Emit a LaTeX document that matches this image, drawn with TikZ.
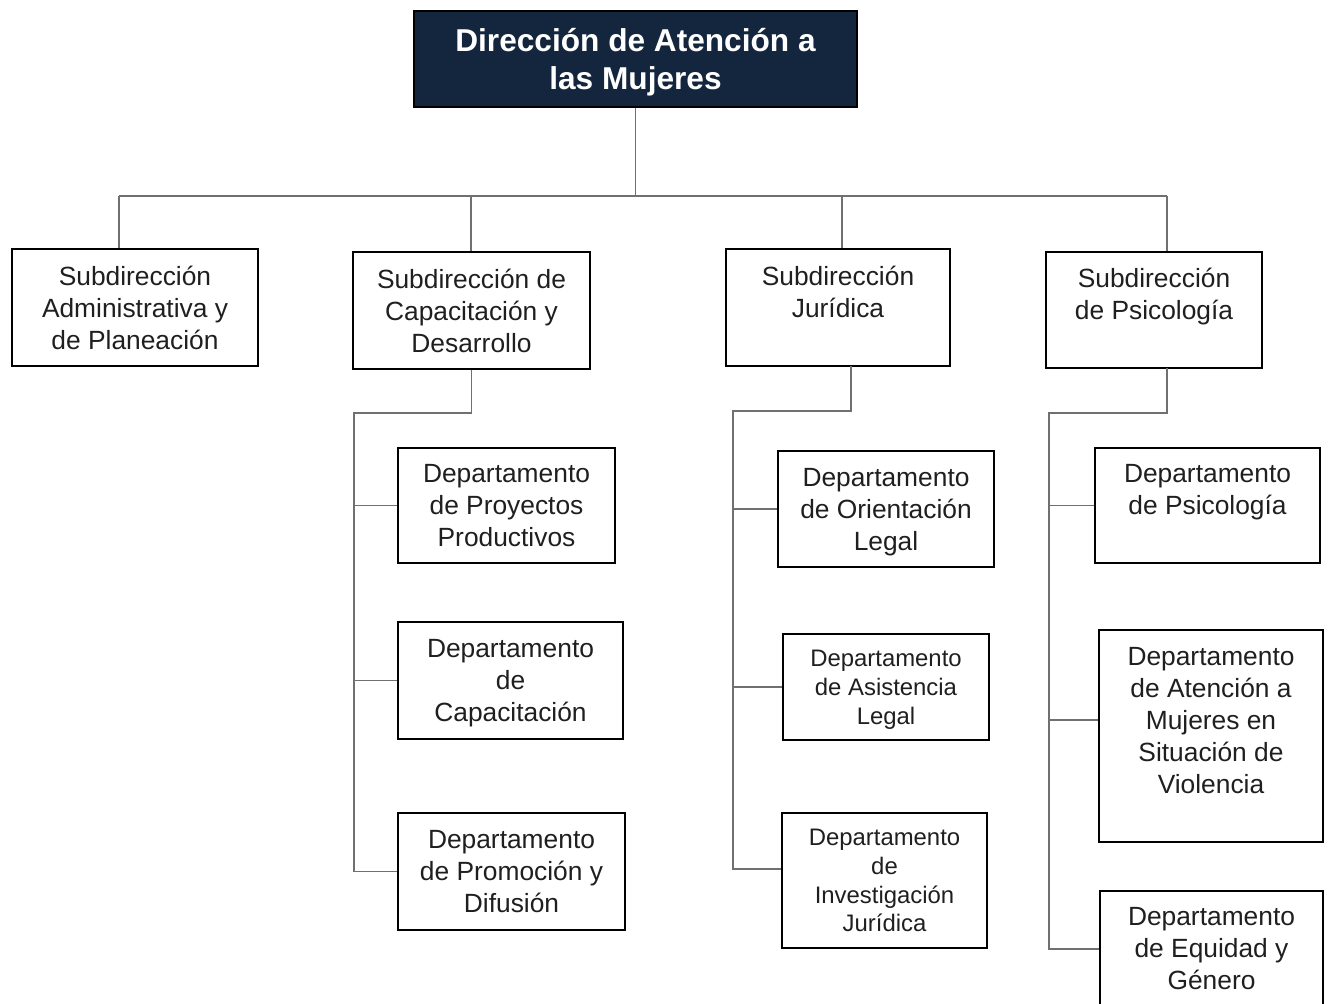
\documentclass[tikz,border=0pt]{standalone}
\usepackage{fontspec}
\setmainfont{Liberation Sans}
\usepackage{tikz}

\definecolor{navy}{HTML}{13263E}
\definecolor{linkgray}{HTML}{707070}
% last line without descender depth
\newcommand{\flatline}[1]{\raisebox{0pt}[\height][0pt]{#1}}

\tikzset{
  unit/.style={draw=black, line width=1.3pt, align=center, inner sep=2pt,
    text=black!88, font=\fontsize{15}{18.2}\selectfont},
  unitsmall/.style={unit, font=\fontsize{13.6}{16.4}\selectfont},
  head/.style={unit, fill=navy, text=white, font=\bfseries\fontsize{18}{21.5}\selectfont},
  link/.style={draw=linkgray, line width=1pt},
}

\begin{document}
\begin{tikzpicture}[x=0.02cm, y=-0.02cm]
  \clip (0,0) rectangle (1329,1004);

  \node[head, minimum width=8.86cm, minimum height=1.92cm] (dir) at (635.5,59) {Dirección de Atención a\\\flatline{las Mujeres}};

  \node[unit, minimum width=4.92cm, minimum height=2.34cm] (subA) at (135,307.5) {Subdirección\\Administrativa y\\de Planeación};
  \node[unit, minimum width=4.74cm, minimum height=2.34cm] (subC) at (471.5,310.5) {Subdirección de\\Capacitación y\\Desarrollo};
  \node[unit, minimum width=4.48cm, minimum height=2.34cm] (subJ) at (838,307.5) {Subdirección\\Jurídica\\\mbox{}};
  \node[unit, minimum width=4.32cm, minimum height=2.32cm] (subP) at (1154,310) {Subdirección\\de Psicología\\\mbox{}};

  \node[unit, minimum width=4.34cm, minimum height=2.30cm] (depPP) at (506.5,505.5) {Departamento\\de Proyectos\\Productivos};
  \node[unit, minimum width=4.50cm, minimum height=2.34cm] (depCa) at (510.5,680.5) {Departamento\\de\\\flatline{Capacitación}};
  \node[unit, minimum width=4.54cm, minimum height=2.34cm] (depPD) at (511.5,871.5) {Departamento\\de Promoción y\\Difusión};

  \node[unit, minimum width=4.32cm, minimum height=2.32cm] (depOL) at (886,509) {Departamento\\de Orientación\\\flatline{Legal}};
  \node[unitsmall, minimum width=4.12cm, minimum height=2.12cm] (depAL) at (886,687) {Departamento\\de Asistencia\\\flatline{Legal}};
  \node[unitsmall, minimum width=4.10cm, minimum height=2.70cm] (depIJ) at (884.5,880.5) {Departamento\\de\\Investigación\\Jurídica};

  \node[unit, minimum width=4.50cm, minimum height=2.30cm] (depPs) at (1207.5,505.5) {Departamento\\de Psicología\\\mbox{}};
  \node[unit, minimum width=4.48cm, minimum height=4.24cm] (depAM) at (1211,736) {Departamento\\de Atención a\\Mujeres en\\Situación de\\Violencia\\\mbox{}};
  \node[unit, minimum width=4.46cm, minimum height=2.32cm] (depEG) at (1211.5,949) {Departamento\\de Equidad y\\Género};

  % main bus
  \coordinate (busA) at (119,196);
  \coordinate (busC) at (471,196);
  \coordinate (busJ) at (842,196);
  \coordinate (busP) at (1167,196);
  \draw[link] (dir.south) -- (dir.south |- busA);
  \draw[link] (busA) -- (busP);
  \draw[link] (busA) -- (busA |- subA.north);
  \draw[link] (busC) -- (busC |- subC.north);
  \draw[link] (busJ) -- (busJ |- subJ.north);
  \draw[link] (busP) -- (busP |- subP.north);

  % capacitacion
  \coordinate (spineC) at (354,413);
  \draw[link] (subC.south) |- (spineC) -- (spineC |- depPD.west) -- (depPD.west);
  \draw[link] (spineC |- depPP.west) -- (depPP.west);
  \draw[link] (spineC |- depCa.west) -- (depCa.west);

  % juridica
  \coordinate (dropJ) at (851,366);
  \coordinate (spineJ) at (733,411);
  \coordinate (inIJ) at ([yshift=0.23cm]depIJ.west);
  \draw[link] (dropJ) |- (spineJ) -- (spineJ |- inIJ) -- (inIJ);
  \draw[link] (spineJ |- depOL.west) -- (depOL.west);
  \draw[link] (spineJ |- depAL.west) -- (depAL.west);

  % psicologia
  \coordinate (dropP) at (1167,368);
  \coordinate (spineP) at (1049,413);
  \coordinate (inAM) at ([yshift=0.32cm]depAM.west);
  \draw[link] (dropP) |- (spineP) -- (spineP |- depEG.west) -- (depEG.west);
  \draw[link] (spineP |- depPs.west) -- (depPs.west);
  \draw[link] (spineP |- inAM) -- (inAM);
\end{tikzpicture}
\end{document}
